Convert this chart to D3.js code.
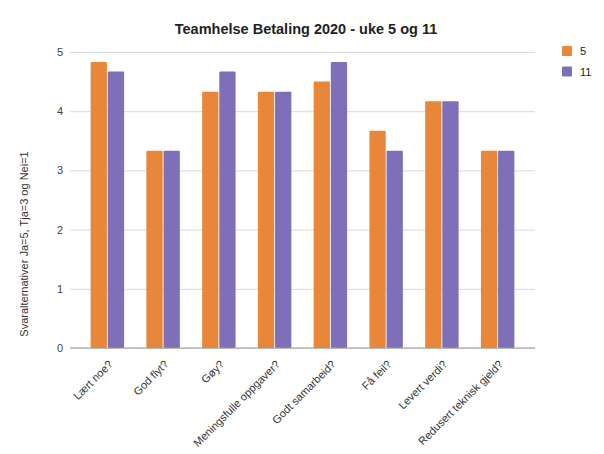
<!DOCTYPE html>
<html>
<head>
<meta charset="utf-8">
<script src="https://cdn.jsdelivr.net/npm/d3@7"></script>
<style>
  body { margin: 0; background: #fff; }
  text { font-family: Arial, "Liberation Sans", sans-serif; }
</style>
</head>
<body>
<div id="chart"></div>
<script>
var categories = ['Lært noe?', 'God flyt?', 'Gøy?', 'Meningsfulle oppgaver?',
  'Godt samarbeid?', 'Få feil?', 'Levert verdi?', 'Redusert teknisk gjeld?'];
var seriesNames = ['5', '11'];
var week5 = [4.83, 3.33, 4.33, 4.33, 4.5, 3.67, 4.17, 3.33];
var week11 = [4.67, 3.33, 4.67, 4.33, 4.83, 3.33, 4.17, 3.33];
var yTicks = [0, 1, 2, 3, 4, 5];
var colors = ['#e8873a', '#7e6fb8'];

var W = 604, H = 454;
var plotLeft = 70, plotRight = 535, plotTop = 52, plotBottom = 348;

var svg = d3.select('#chart').append('svg')
    .attr('width', W).attr('height', H);

var rows = categories.map(function(c, i) { return { cat: c, values: [week5[i], week11[i]] }; });

var x = d3.scaleBand()
    .domain(categories)
    .range([plotLeft, plotRight])
    .paddingInner(0.4)
    .paddingOuter(0.37);

var x1 = d3.scaleBand()
    .domain([0, 1])
    .range([0, x.bandwidth()])
    .paddingInner(0.05);

var y = d3.scaleLinear()
    .domain([0, 5])
    .range([plotBottom, plotTop]);

// gridlines + y tick labels
var yAxis = d3.axisLeft(y)
    .tickValues(yTicks)
    .tickSize(-(plotRight - plotLeft))
    .tickPadding(7)
    .tickFormat(d3.format('d'));

svg.append('g')
    .attr('class', 'axis axis--y')
    .attr('transform', 'translate(' + plotLeft + ',0)')
    .call(yAxis)
    .call(function(g) {
      g.select('.domain').remove();
      g.selectAll('.tick line').attr('stroke', '#d9d9d9');
      g.selectAll('.tick text').attr('fill', '#444').attr('font-size', 11);
    });

// bars
svg.append('g')
  .selectAll('g')
  .data(rows)
  .enter().append('g')
    .attr('transform', function(d) { return 'translate(' + x(d.cat) + ',0)'; })
  .selectAll('rect')
  .data(function(d) { return d.values.map(function(v, k) { return { k: k, v: v }; }); })
  .enter().append('rect')
    .attr('x', function(d) { return x1(d.k); })
    .attr('y', function(d) { return y(d.v); })
    .attr('width', x1.bandwidth())
    .attr('height', function(d) { return y(0) - y(d.v); })
    .attr('rx', 1)
    .attr('fill', function(d) { return colors[d.k]; });

// baseline
svg.append('line')
    .attr('x1', plotLeft).attr('x2', plotRight)
    .attr('y1', y(0)).attr('y2', y(0))
    .attr('stroke', '#999').attr('stroke-width', 1.2);

// x labels
svg.append('g')
  .selectAll('text')
  .data(categories)
  .enter().append('text')
    .attr('transform', function(d) {
      return 'translate(' + (x(d) + x.bandwidth() / 2 + 6) + ',' + (plotBottom + 17) + ') rotate(-45)';
    })
    .attr('text-anchor', 'end')
    .attr('font-size', 11)
    .attr('fill', '#333')
    .text(function(d) { return d; });

// title
svg.append('text')
    .attr('x', 306).attr('y', 34)
    .attr('text-anchor', 'middle')
    .attr('font-size', 14.5)
    .attr('font-weight', 'bold')
    .attr('fill', '#222')
    .text('Teamhelse Betaling 2020 - uke 5 og 11');

// y axis title
svg.append('text')
    .attr('transform', 'translate(28,244) rotate(-90)')
    .attr('text-anchor', 'middle')
    .attr('font-size', 11)
    .attr('fill', '#333')
    .text('Svaralternativer Ja=5, Tja=3 og Nei=1');

// legend
var legend = svg.append('g')
  .selectAll('g')
  .data(seriesNames)
  .enter().append('g')
    .attr('transform', function(d, i) { return 'translate(562,' + (46 + i * 20.5) + ')'; });

legend.append('rect')
    .attr('width', 10).attr('height', 10).attr('rx', 1)
    .attr('fill', function(d, i) { return colors[i]; });

legend.append('text')
    .attr('x', 18).attr('y', 9)
    .attr('font-size', 11)
    .attr('fill', '#222')
    .text(function(d) { return d; });
</script>
</body>
</html>
